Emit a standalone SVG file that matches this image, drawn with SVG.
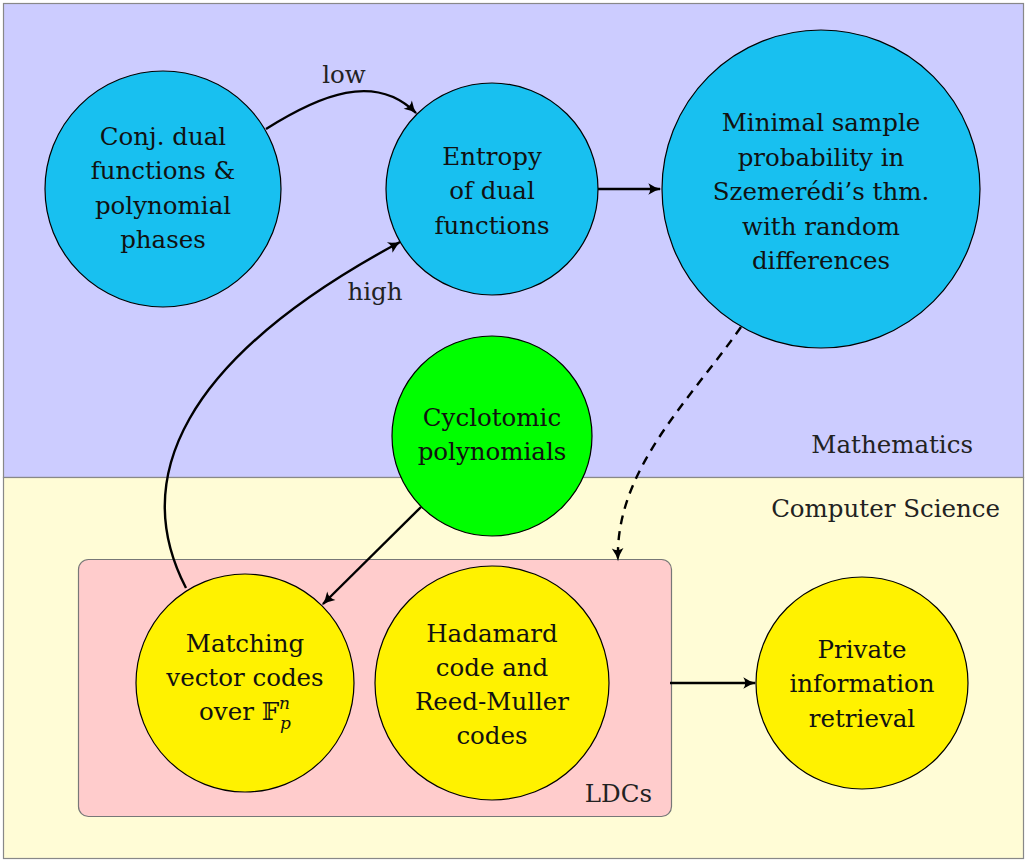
<svg xmlns="http://www.w3.org/2000/svg" width="1027" height="862" viewBox="0 0 1027 862">
<style>
.t{font-family:'DejaVu Serif',serif;font-size:24.5px;fill:#111;text-anchor:middle}
.l{font-family:'DejaVu Serif',serif;font-size:24.5px;fill:#222}
.n{stroke:#000;stroke-width:1.2}
.e{fill:none;stroke:#000;stroke-width:2.4}
</style>
<defs>
<marker id="ah" viewBox="0 0 12 12" refX="10" refY="6" markerWidth="6.5" markerHeight="6.5" markerUnits="strokeWidth" orient="auto">
<path d="M1,1.5 Q6,5 11,6 Q6,7 1,10.5 Q4,6 1,1.5 Z" fill="#000"/>
</marker>
</defs>
<g id="backgrounds">
<rect x="3.5" y="3.5" width="1020" height="474" fill="#ccccff" stroke="#888" stroke-width="1.2"/>
<rect x="3.5" y="477.5" width="1020" height="381" fill="#fffcd6" stroke="#888" stroke-width="1.2"/>
<rect x="78.5" y="559.5" width="593" height="257" rx="10" fill="#ffcccc" stroke="#777" stroke-width="1.2"/>
<text class="l" x="973" y="453" text-anchor="end">Mathematics</text>
<text class="l" x="1000" y="517" text-anchor="end">Computer Science</text>
<text class="l" x="652" y="802" text-anchor="end">LDCs</text>
</g>
<g id="connectors">
<path class="e" d="M266,129 C320,95 375,72 416,113" marker-end="url(#ah)"/>
<text class="l" x="344" y="83" text-anchor="middle">low</text>
<path class="e" d="M598,189 L660,189" marker-end="url(#ah)"/>
<path class="e" d="M186,588 C130,480 180,360 400,242" marker-end="url(#ah)"/>
<text class="l" x="375" y="300" text-anchor="middle">high</text>
<path class="e" d="M741,327 C690,400 615,470 618,560" stroke-dasharray="9,7" marker-end="url(#ah)"/>
<path class="e" d="M421,507 L323,604" marker-end="url(#ah)"/>
<path class="e" d="M670,683 L755,683" marker-end="url(#ah)"/>
</g>
<g id="conj">
<circle class="n" cx="163" cy="189" r="118" fill="#18c0f0"/>
<text class="t" x="163" y="145">Conj. dual</text>
<text class="t" x="163" y="179">functions &amp;</text>
<text class="t" x="163" y="214">polynomial</text>
<text class="t" x="163" y="248">phases</text>
</g>
<g id="entropy">
<circle class="n" cx="492" cy="189" r="106" fill="#18c0f0"/>
<text class="t" x="492" y="165">Entropy</text>
<text class="t" x="492" y="199">of dual</text>
<text class="t" x="492" y="234">functions</text>
</g>
<g id="minimal">
<circle class="n" cx="821" cy="189" r="159" fill="#18c0f0"/>
<text class="t" x="821" y="131">Minimal sample</text>
<text class="t" x="821" y="166">probability in</text>
<text class="t" x="821" y="200">Szemerédi’s thm.</text>
<text class="t" x="821" y="235">with random</text>
<text class="t" x="821" y="269">differences</text>
</g>
<g id="cyclotomic">
<circle class="n" cx="492" cy="436" r="100" fill="#00ff00"/>
<text class="t" x="492" y="426">Cyclotomic</text>
<text class="t" x="492" y="460">polynomials</text>
</g>
<g id="matching">
<circle class="n" cx="245" cy="683" r="109" fill="#fff200"/>
<text class="t" x="245" y="652">Matching</text>
<text class="t" x="245" y="686">vector codes</text>
<text class="t" x="245" y="720">over 𝔽<tspan font-style="italic" font-size="17" dy="-11">n</tspan><tspan font-style="italic" font-size="17" dx="-10" dy="20">p</tspan></text>
</g>
<g id="hadamard">
<circle class="n" cx="492" cy="683" r="117" fill="#fff200"/>
<text class="t" x="492" y="642">Hadamard</text>
<text class="t" x="492" y="676">code and</text>
<text class="t" x="492" y="710">Reed-Muller</text>
<text class="t" x="492" y="744">codes</text>
</g>
<g id="private">
<circle class="n" cx="862" cy="683" r="106" fill="#fff200"/>
<text class="t" x="862" y="658">Private</text>
<text class="t" x="862" y="692">information</text>
<text class="t" x="862" y="727">retrieval</text>
</g>
</svg>
